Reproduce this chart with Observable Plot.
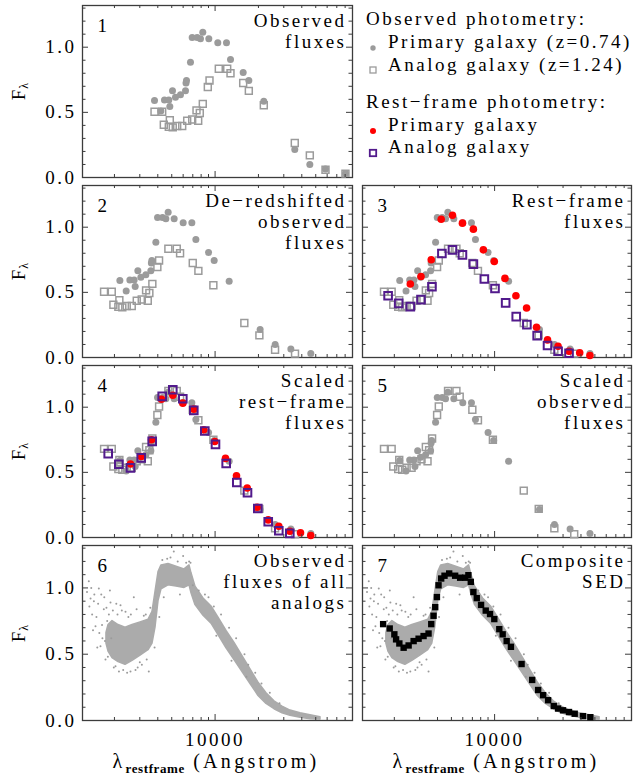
<!DOCTYPE html>
<html><head><meta charset="utf-8">
<script src="https://cdn.jsdelivr.net/npm/d3@7"></script>
<script src="https://cdn.jsdelivr.net/npm/@observablehq/plot@0.6"></script>
<style>
html,body{margin:0;padding:0;background:#fff;}
#chart{position:relative;width:634px;height:783px;overflow:hidden;font-family:"Liberation Serif",serif;font-size:19px;letter-spacing:2.5px;color:#000;}
.txt{position:absolute;white-space:nowrap;line-height:22px;}
.ylab{position:absolute;white-space:nowrap;transform:translate(-50%,-50%) rotate(-90deg);letter-spacing:1px;}
.ylab sub{font-size:12px;vertical-align:-3px;line-height:0;}
.xlab{position:absolute;white-space:nowrap;transform:translateX(-50%);font-size:20px;letter-spacing:3.3px;line-height:19px;}
.xlab sub{font-size:13px;font-weight:bold;vertical-align:-5px;letter-spacing:0.6px;line-height:0;}
.sym{position:absolute;}
</style></head><body><div id="chart"></div>
<script>
// ---------- data ----------
// Primary galaxy, observed photometry
const primaryObsLambda = [3795,4199,4452,4770,4848,5060,5308,5751,6230,6280,6330,6748,6933,7510,7918,8214,9045,10441,12000,12795,15670,17148,21790,35760,45480,58440,80400];
const primaryRestLambda = [2181,2413,2559,2741,2786,2908,3051,3305,3580,3609,3638,3878,3984,4316,4551,4721,5198,6001,6897,7353,9006,9855,12523,20552,26138,33586,46207];
const primaryFlux = [0.59,0.51,0.595,0.595,0.545,0.665,0.615,0.635,0.665,0.725,0.745,0.885,1.075,1.075,1.065,1.115,1.065,1.035,1.035,0.905,0.805,0.745,0.585,0.215,0.10,0.065,0.03];
// Analog galaxy, observed photometry
const analogObsLambda = [3795,4292,4403,4770,4848,5083,5455,5910,6400,6933,7428,7633,7831,8214,8900,9146,10608,12136,12795,15670,17148,21790,35760,45480,58440,80400];
const analogRestLambda = [1694,1916,1966,2129,2164,2269,2435,2638,2857,3095,3316,3408,3496,3667,3973,4083,4736,5418,5712,6996,7655,9728,15964,20304,26089,35893];
const analogFlux = [0.505,0.505,0.405,0.39,0.44,0.385,0.395,0.395,0.435,0.445,0.515,0.435,0.495,0.565,0.695,0.745,0.835,0.835,0.80,0.725,0.665,0.555,0.265,0.17,0.06,0.03];
const analogFluxScaled = [0.68,0.68,0.545,0.525,0.595,0.52,0.535,0.535,0.585,0.60,0.695,0.585,0.67,0.76,0.94,1.005,1.125,1.125,1.08,0.98,0.90,0.75,0.36,0.22,0.07,0.025];
// Rest-frame photometry
const restPrimaryLambda = [2585,3068,3617,4244,5085,5968,7114,8348,9951,11808,14080,16711,19600,23386,27700,33020,39190,46190];
const restPrimaryFlux = [0.564,0.622,0.75,1.061,1.092,1.031,0.985,0.826,0.737,0.607,0.474,0.38,0.232,0.135,0.086,0.048,0.036,0.015];
const restAnalogLambda = [1810,2145,2585,3068,3658,4292,5085,5968,7114,8483,10063,11940,14150,16790,19800,23386,27700,33020];
const restAnalogFlux = [0.474,0.415,0.39,0.444,0.543,0.798,0.826,0.788,0.717,0.602,0.53,0.419,0.314,0.252,0.168,0.092,0.048,0.033];
const restAnalogFluxScaled = [0.644,0.562,0.534,0.611,0.738,1.083,1.134,1.065,0.976,0.817,0.715,0.568,0.422,0.343,0.223,0.121,0.052,0.032];
// Observed fluxes of all analogs: dense band (lower / upper edge) and scattered points
const cloudLambda = [1760,1819,1939,2134,2387,2670,3034,3446,3676,3856,4046,4244,4747,5395,6131,6642,6857,7310,8307,9439,10558,12000,13634,15500,17615,20017,22750,25850,29376,33390,39190,45970,53950];
const cloudLow  = [0.58,0.52,0.47,0.44,0.42,0.45,0.49,0.53,0.58,0.70,0.90,0.99,1.02,1.01,1.00,1.02,0.96,0.87,0.79,0.73,0.645,0.545,0.455,0.365,0.275,0.185,0.125,0.085,0.055,0.035,0.02,0.01,0.005];
const cloudHigh = [0.66,0.72,0.75,0.72,0.70,0.72,0.74,0.76,0.82,0.97,1.12,1.17,1.18,1.16,1.14,1.17,1.11,1.01,0.92,0.86,0.775,0.675,0.585,0.485,0.385,0.285,0.205,0.145,0.105,0.075,0.055,0.04,0.025];
const scatterLambda = [1290,1327,1340,1365,1380,1400,1420,1440,1450,1477,1500,1520,1540,1558,1570,1600,1620,1640,1650,1687,1700,1720,1733,1760,1781,1800,1830,1860,1878,1900,1950,1980,2034,2060,2100,2150,2204,2250,2300,2387,2450,2500,2585,2600,2726,2800,2850,2900,3000,3100,3198,3300,3350,3464,3550,3800,4100,4300,4400,4648,4900,5166,5500,5700,6000,6300,6600,6748,7000,7700,8500,9000,9800,10200,11000,12500,13000,14000,16000,16500,17000,19000,21000,24000,28000];
const scatterFlux = [0.97,1.05,0.86,0.92,1.0,0.80,0.68,0.90,0.95,0.71,0.78,0.55,0.88,0.995,0.66,0.56,0.95,0.72,0.62,0.84,0.93,0.60,0.46,0.85,0.75,0.48,0.80,0.98,0.89,0.62,0.83,0.40,0.41,0.88,0.80,0.37,0.87,0.83,0.38,0.82,0.36,0.78,0.37,0.80,0.93,0.38,0.84,0.40,0.44,0.42,0.79,0.80,0.46,0.37,0.85,0.55,0.78,1.21,0.93,1.22,1.23,1.275,1.20,0.95,1.24,1.19,1.20,1.19,1.02,0.98,0.95,0.93,0.86,0.64,0.80,0.70,0.45,0.62,0.50,0.33,0.42,0.36,0.28,0.21,0.13];

// Composite SED
const compositeLambda = [1671,1857,2001,2057,2168,2322,2516,2726,2952,3198,3464,3617,3753,3856,3963,4066,4244,4475,4823,5308,5751,6230,6566,6823,7114,7510,8048,8673,9292,9951,10782,11383,12136,12996,15420,18276,20112,21790,23610,25850,27700,30000,33020,36170,41320,46490];
const compositeFlux = [0.727,0.694,0.650,0.612,0.581,0.549,0.566,0.599,0.617,0.637,0.656,0.727,0.790,0.855,0.931,1.020,1.071,1.092,1.109,1.092,1.077,1.077,1.096,1.046,0.969,0.923,0.872,0.829,0.803,0.765,0.689,0.650,0.599,0.556,0.426,0.306,0.230,0.191,0.153,0.109,0.090,0.077,0.064,0.051,0.033,0.025];

// ---------- text ----------
const panelNumbers = ["1","2","3","4","5","6","7"];
const panelTitles = ["Observed\nfluxes","De\u2212redshifted\nobserved\nfluxes","Rest\u2212frame\nfluxes","Scaled\nrest\u2212frame\nfluxes","Scaled\nobserved\nfluxes","Observed\nfluxes of all\nanalogs","Composite\nSED"];
const legendHeaders = ["Observed photometry:","Rest\u2212frame photometry:"];
const legendItems = ["Primary galaxy (z=0.74)","Analog galaxy (z=1.24)","Primary galaxy","Analog galaxy"];
const xTickValues = [10000];
const yTickValues = [0, 0.5, 1.0];
const minorXTicks = [2000,3000,4000,5000,6000,7000,8000,9000,20000,30000,40000,50000,60000,70000,80000];
const minorYTicks = [0.1,0.2,0.3,0.4,0.6,0.7,0.8,0.9,1.1,1.2,1.3];

// ---------- style ----------
const GRAY = "#9b9b9b", BAND = "#ababab", RED = "#ff0000", PURPLE = "#521a8c", AXIS = "#3c3c3c";
const chart = document.getElementById("chart");

const grayCircles = (xs, ys) => Plot.dot(xs, {x: xs, y: ys, r: 3.5, fill: GRAY, stroke: "none"});
const graySquares = (xs, ys) => Plot.dot(xs, {x: xs, y: ys, r: 3.9, symbol: "square", fill: "none", stroke: GRAY, strokeWidth: 1.5});
const redCircles = (xs, ys) => Plot.dot(xs, {x: xs, y: ys, r: 3.8, fill: RED, stroke: "none"});
const purpleSquares = (xs, ys) => Plot.dot(xs, {x: xs, y: ys, r: 4.3, symbol: "square", fill: "none", stroke: PURPLE, strokeWidth: 2});
const cloud = () => [
  Plot.areaY(cloudLambda, {x: cloudLambda, y1: cloudLow, y2: cloudHigh, fill: BAND, stroke: BAND, strokeWidth: 1.5, curve: "linear"}),
  Plot.dot(scatterLambda, {x: scatterLambda, y: scatterFlux, r: 1, fill: GRAY, stroke: "none"})
];

function panel(i, col, row, dataMarks) {
  const left = col === 0 ? 0 : 356;
  const width = col === 0 ? 356 : 278;
  const mL = col === 0 ? 82 : 6, mR = col === 0 ? 4 : 3;
  const top = row * 180, mT = 5;
  const fh = row === 3 ? 175 : 172;
  const height = row === 3 ? 243 : 180;
  const mB = height - mT - fh;
  const fw = width - mL - mR;
  const svg = Plot.plot({
    width, height, marginLeft: mL, marginRight: mR, marginTop: mT, marginBottom: mB,
    style: {fontFamily: "Liberation Serif", fontSize: "19px", letterSpacing: "2.5px", background: "transparent", overflow: "visible", color: "#000"},
    x: {type: "log", domain: [1200, 90000], axis: row === 3 ? "bottom" : null, ticks: xTickValues, tickFormat: d => String(d), tickSize: 0, tickPadding: 12, label: null},
    y: {domain: [0, 1.32], axis: col === 0 ? "left" : null, ticks: yTickValues, tickFormat: d => d.toFixed(1), tickSize: 0, tickPadding: 6, label: null},
    marks: [
      Plot.frame({stroke: AXIS, strokeWidth: 1.3}),
      ...dataMarks,
      Plot.tickX(minorXTicks, {x: d => d, insetTop: fh - 3, stroke: AXIS}),
      Plot.tickX(minorXTicks, {x: d => d, insetBottom: fh - 3, stroke: AXIS}),
      Plot.tickX(xTickValues, {x: d => d, insetTop: fh - 6, stroke: AXIS}),
      Plot.tickX(xTickValues, {x: d => d, insetBottom: fh - 6, stroke: AXIS}),
      Plot.tickY(minorYTicks, {y: d => d, insetRight: fw - 3.5, stroke: AXIS}),
      Plot.tickY(minorYTicks, {y: d => d, insetLeft: fw - 3.5, stroke: AXIS}),
      Plot.tickY(yTickValues, {y: d => d, insetRight: fw - 6, stroke: AXIS}),
      Plot.tickY(yTickValues, {y: d => d, insetLeft: fw - 6, stroke: AXIS}),
      Plot.text([panelNumbers[i]], {text: d => d, frameAnchor: "top-left", dx: 15, dy: 13, lineAnchor: "top", textAnchor: "start", fill: "#000"}),
      Plot.text([panelTitles[i]], {text: d => d, frameAnchor: "top-right", dx: -6, dy: 7, lineAnchor: "top", textAnchor: "end", lineHeight: 1.1, fill: "#000"})
    ]
  });
  svg.style.position = "absolute";
  svg.style.left = left + "px";
  svg.style.top = top + "px";
  chart.appendChild(svg);
  if (col === 0) {
    const yl = document.createElement("div");
    yl.className = "ylab";
    yl.innerHTML = "F<sub>\u03bb</sub>";
    yl.style.left = "19px";
    yl.style.top = (top + mT + fh / 2) + "px";
    chart.appendChild(yl);
  }
  if (row === 3) {
    const xl = document.createElement("div");
    xl.className = "xlab";
    xl.innerHTML = "\u03bb<sub>restframe</sub> (Angstrom)";
    xl.style.left = (col === 0 ? 216 : 496) + "px";
    xl.style.top = "752px";
    chart.appendChild(xl);
  }
}

panel(0, 0, 0, [grayCircles(primaryObsLambda, primaryFlux), graySquares(analogObsLambda, analogFlux)]);
panel(1, 0, 1, [grayCircles(primaryRestLambda, primaryFlux), graySquares(analogRestLambda, analogFlux)]);
panel(2, 1, 1, [grayCircles(primaryRestLambda, primaryFlux), graySquares(analogRestLambda, analogFlux),
                redCircles(restPrimaryLambda, restPrimaryFlux), purpleSquares(restAnalogLambda, restAnalogFlux)]);
panel(3, 0, 2, [grayCircles(primaryRestLambda, primaryFlux), graySquares(analogRestLambda, analogFluxScaled),
                redCircles(restPrimaryLambda, restPrimaryFlux), purpleSquares(restAnalogLambda, restAnalogFluxScaled)]);
panel(4, 1, 2, [grayCircles(primaryRestLambda, primaryFlux), graySquares(analogRestLambda, analogFluxScaled)]);
panel(5, 0, 3, cloud());
panel(6, 1, 3, [...cloud(), Plot.dot(compositeLambda, {x: compositeLambda, y: compositeFlux, r: 3.6, symbol: "square", fill: "#000", stroke: "none"})]);

// ---------- legend ----------
function addText(text, x, yc) {
  const d = document.createElement("div");
  d.className = "txt";
  d.textContent = text;
  d.style.left = x + "px";
  d.style.top = (yc - 11) + "px";
  chart.appendChild(d);
}
function addSym(svgInner, xc, yc) {
  const d = document.createElement("div");
  d.className = "sym";
  d.style.left = (xc - 6) + "px";
  d.style.top = (yc - 6) + "px";
  d.innerHTML = `<svg width="12" height="12" viewBox="0 0 12 12">${svgInner}</svg>`;
  chart.appendChild(d);
}
addText(legendHeaders[0], 366, 19);
addText(legendItems[0], 388, 42);
addText(legendItems[1], 388, 65);
addText(legendHeaders[1], 366, 102);
addText(legendItems[2], 388, 125);
addText(legendItems[3], 388, 147);
addSym(`<circle cx="6" cy="6" r="2.7" fill="${GRAY}"/>`, 373, 43);
addSym(`<rect x="3" y="3" width="6" height="6" fill="none" stroke="${GRAY}" stroke-width="1.3"/>`, 373, 65);
addSym(`<circle cx="6" cy="6" r="3" fill="${RED}"/>`, 373, 126);
addSym(`<rect x="2.8" y="2.8" width="6.4" height="6.4" fill="none" stroke="${PURPLE}" stroke-width="1.8"/>`, 373, 148);
</script></body></html>
